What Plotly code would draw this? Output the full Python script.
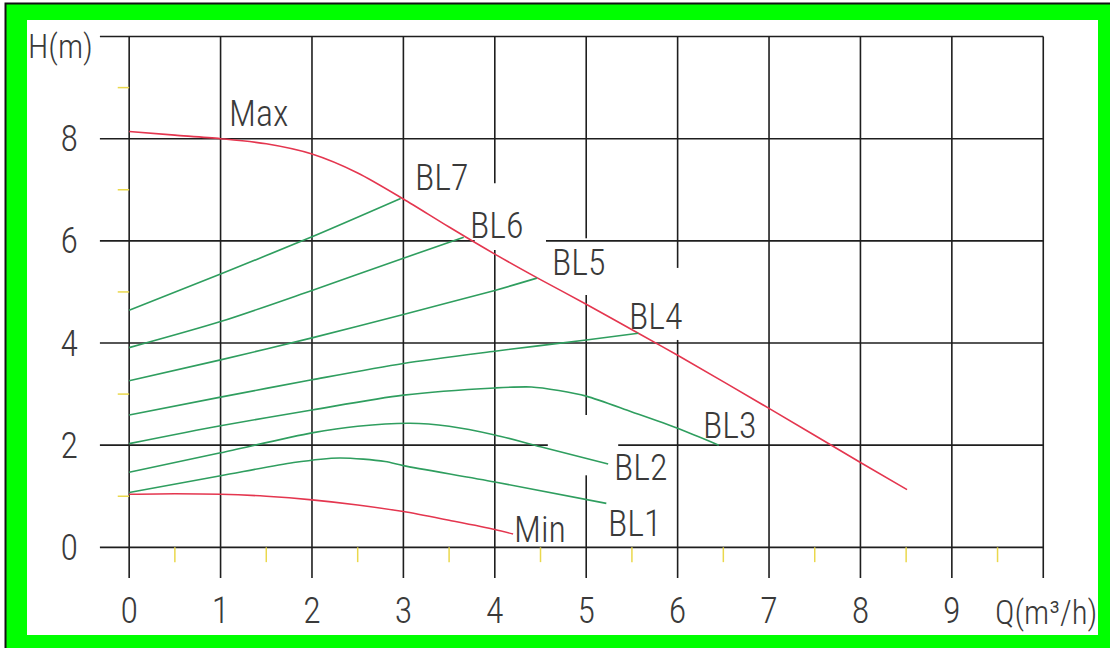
import plotly.graph_objects as go

# ---------------- data ----------------
max_q = [0, 0.5, 1, 1.5, 2, 2.5, 3, 3.5, 4, 4.5, 5, 5.57, 6, 7, 8, 8.51]
max_h = [8.14, 8.07, 8.0, 7.9, 7.70, 7.33, 6.82, 6.27, 5.74, 5.24, 4.76, 4.19, 3.76, 2.72, 1.66, 1.13]

min_q = [0, 0.5, 1, 1.5, 2, 2.5, 3, 3.5, 4, 4.2]
min_h = [1.04, 1.05, 1.04, 1.0, 0.93, 0.83, 0.70, 0.53, 0.35, 0.26]

bl7_q = [0, 1, 2, 2.97]
bl7_h = [4.64, 5.35, 6.08, 6.83]

bl6_q = [0, 1, 2, 3, 3.66]
bl6_h = [3.91, 4.42, 5.03, 5.66, 6.07]

bl5_q = [0, 1, 2, 3, 4, 4.46]
bl5_h = [3.26, 3.67, 4.10, 4.56, 5.03, 5.27]

bl4_q = [0, 1, 2, 3, 4, 5, 5.57]
bl4_h = [2.59, 2.94, 3.28, 3.60, 3.84, 4.06, 4.19]

bl3_q = [0, 1, 2, 3, 4, 4.4, 4.7, 5, 5.5, 6, 6.45]
bl3_h = [2.03, 2.38, 2.69, 2.98, 3.12, 3.14, 3.07, 2.96, 2.65, 2.33, 2.0]

bl2_q = [0, 1, 2, 2.5, 3.07, 3.5, 4, 4.5, 5.24]
bl2_h = [1.47, 1.85, 2.24, 2.37, 2.43, 2.37, 2.20, 1.97, 1.63]

bl1_q = [0, 1, 1.8, 2.3, 2.8, 3, 4, 5.22]
bl1_h = [1.075, 1.40, 1.66, 1.75, 1.68, 1.60, 1.28, 0.86]

curve_names = ["Max", "Min", "BL7", "BL6", "BL5", "BL4", "BL3", "BL2", "BL1"]

label_text = ["Max", "BL7", "BL6", "BL5", "BL4", "BL3", "BL2", "BL1", "Min"]
label_q = [1.42, 3.42, 4.02, 4.92, 5.76, 6.57, 5.60, 5.53, 4.49]
label_h = [8.48, 7.24, 6.30, 5.57, 4.50, 2.37, 1.56, 0.46, 0.34]

x_ticks = [0, 1, 2, 3, 4, 5, 6, 7, 8, 9]
x_ticktext = ["0", "1", "2", "3", "4", "5", "6", "7", "8", "9"]
y_ticks = [0, 2, 4, 6, 8]
y_ticktext = ["0", "2", "4", "6", "8"]
x_title = "Q(m³/h)"
y_title = "H(m)"

x_grid = [0, 1, 2, 3, 4, 5, 6, 7, 8, 9, 10]
y_grid = [0, 2, 4, 6, 8, 10]
x_half = [0.5, 1.5, 2.5, 3.5, 4.5, 5.5, 6.5, 7.5, 8.5, 9.5]
y_odd = [1, 3, 5, 7, 9]

# gaps (label masks) in grid lines
vgaps = {4: [(5.82, 7.13)], 5: [(4.94, 6.05), (1.41, 2.59)], 6: [(4.06, 5.47)]}
hgaps = {6: [(3.78, 4.56)], 2: [(4.58, 5.35)]}

# ---------------- style ----------------
FONT = "Roboto Condensed, DejaVu Sans Condensed, sans-serif"
FW = 300
FS = 36
TXT = "#3a3a3a"
RED = "#e4364f"
GREEN = "#2f9e5f"
GRID = "#1e1e1e"
YEL = "#ead84c"

XR = [-0.33, 10.03]
YR = [-0.62, 10.03]
W, H = 1110, 648
ML, MR, MT, MB = 99, 64, 35, 69
PW = W - ML - MR
PH = H - MT - MB


def px_to_paper(x, y):
    return (x - ML) / PW, (H - MB - y) / PH


fig = go.Figure()

curves = [
    (max_q, max_h, RED),
    (min_q, min_h, RED),
    (bl7_q, bl7_h, GREEN),
    (bl6_q, bl6_h, GREEN),
    (bl5_q, bl5_h, GREEN),
    (bl4_q, bl4_h, GREEN),
    (bl3_q, bl3_h, GREEN),
    (bl2_q, bl2_h, GREEN),
    (bl1_q, bl1_h, GREEN),
]
for name, (q, h, c) in zip(curve_names, curves):
    fig.add_trace(go.Scatter(x=q, y=h, mode="lines", name=name,
                             line=dict(color=c, width=1.6, shape="spline", smoothing=0.8),
                             hoverinfo="skip", showlegend=False))

# yellow minor ticks
tx, ty = [], []
for v in x_half:
    tx += [v, v, None]
    ty += [0, -0.29, None]
fig.add_trace(go.Scatter(x=tx, y=ty, mode="lines", line=dict(color=YEL, width=1.5),
                         hoverinfo="skip", showlegend=False, cliponaxis=False))
tx, ty = [], []
for v in y_odd:
    tx += [-0.125, 0, None]
    ty += [v, v, None]
fig.add_trace(go.Scatter(x=tx, y=ty, mode="lines", line=dict(color=YEL, width=1.5),
                         hoverinfo="skip", showlegend=False, cliponaxis=False))

shapes = []
# frame
x0, y0 = px_to_paper(5.5, 3.5)
x1, y1 = px_to_paper(1125, 660)
shapes.append(dict(type="rect", xref="paper", yref="paper", x0=x0, y0=y0, x1=x1, y1=y1,
                   fillcolor="#00ff00", line=dict(color="#111111", width=2), layer="below"))
x0, y0 = px_to_paper(27, 20)
x1, y1 = px_to_paper(1098, 635)
shapes.append(dict(type="rect", xref="paper", yref="paper", x0=x0, y0=y0, x1=x1, y1=y1,
                   fillcolor="white", line=dict(width=0), layer="below"))


def segments(lo, hi, gaps):
    segs = []
    cur = lo
    for a, b in sorted(gaps):
        segs.append((cur, a))
        cur = b
    segs.append((cur, hi))
    return segs


for gx in x_grid:
    for a, b in segments(-0.60, 10, vgaps.get(gx, [])):
        shapes.append(dict(type="line", xref="x", yref="y", x0=gx, x1=gx, y0=a, y1=b,
                           line=dict(color=GRID, width=1.6), layer="below"))
for gy in y_grid:
    for a, b in segments(-0.32, 10, hgaps.get(gy, [])):
        shapes.append(dict(type="line", xref="x", yref="y", x0=a, x1=b, y0=gy, y1=gy,
                           line=dict(color=GRID, width=1.6), layer="below"))

tfont = dict(family=FONT, size=FS, color=TXT, weight=FW)
title_font = dict(family=FONT, size=33, color=TXT, weight=FW)
annotations = []
for t, q, h in zip(label_text, label_q, label_h):
    annotations.append(dict(x=q, y=h, xref="x", yref="y", text=t, showarrow=False,
                            font=tfont, xanchor="center", yanchor="middle"))
ax, ay = px_to_paper(60, 46)
annotations.append(dict(x=ax, y=ay, xref="paper", yref="paper", text=y_title, showarrow=False,
                        font=title_font, xanchor="center", yanchor="middle"))
ax, ay = px_to_paper(1046, 612)
annotations.append(dict(x=ax, y=ay, xref="paper", yref="paper", text=x_title, showarrow=False,
                        font=title_font, xanchor="center", yanchor="middle"))

fig.update_layout(
    width=W, height=H,
    margin=dict(l=ML, r=MR, t=MT, b=MB, pad=0),
    paper_bgcolor="white", plot_bgcolor="rgba(0,0,0,0)",
    shapes=shapes, annotations=annotations,
    xaxis=dict(range=XR, showgrid=False, zeroline=False, showline=False,
               tickvals=x_ticks, ticktext=x_ticktext, ticks="",
               tickfont=tfont, ticklabelstandoff=7, fixedrange=True),
    yaxis=dict(range=YR, showgrid=False, zeroline=False, showline=False,
               tickvals=y_ticks, ticktext=y_ticktext, ticks="",
               tickfont=tfont, ticklabelstandoff=20, fixedrange=True),
    showlegend=False,
)

fig.write_html("out.html", config={"displayModeBar": False},
               post_script="document.body.style.margin='0';document.body.style.overflow='hidden';")
